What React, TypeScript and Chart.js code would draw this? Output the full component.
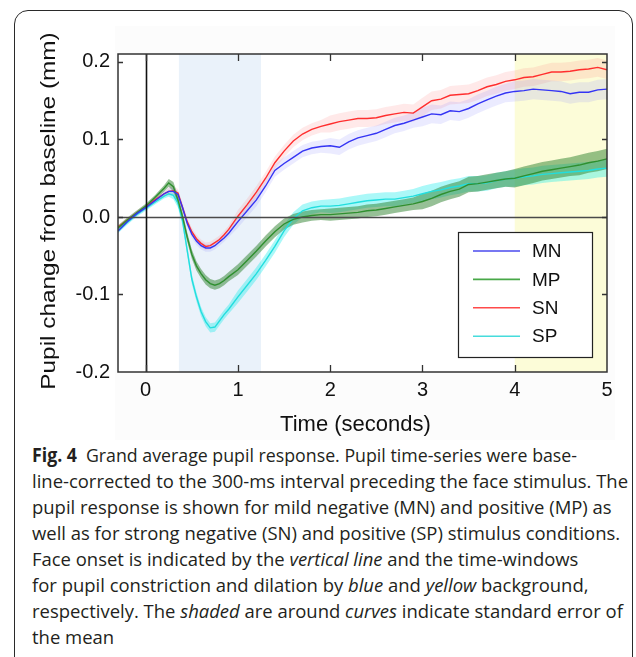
import React, { useEffect, useRef, useMemo } from "react";
import { Chart, registerables } from "chart.js";

Chart.register(...registerables);

// ---------- data ----------
const TIME = [
  -0.3, -0.2, -0.1, 0, 0.1, 0.2, 0.25, 0.3, 0.35, 0.4, 0.45, 0.5, 0.55, 0.6, 0.65, 0.7, 0.75, 0.8, 0.85, 0.9,
  1.0, 1.1, 1.2, 1.3, 1.4, 1.5, 1.6, 1.7, 1.8, 1.9,
  2.0, 2.1, 2.2, 2.3, 2.4, 2.5, 2.6, 2.7, 2.8, 2.9,
  3.0, 3.1, 3.2, 3.3, 3.4, 3.5, 3.6, 3.7, 3.8, 3.9,
  4.0, 4.1, 4.2, 4.3, 4.4, 4.5, 4.6, 4.7, 4.8, 4.9, 5.0,
];

const MN = [
  -0.018, -0.006, 0.004, 0.012, 0.021, 0.030, 0.033, 0.033, 0.029, 0.012, -0.008, -0.022, -0.031, -0.037, -0.040, -0.040, -0.037, -0.032, -0.027, -0.021,
  -0.006, 0.008, 0.022, 0.040, 0.060, 0.069, 0.077, 0.085, 0.089, 0.091,
  0.092, 0.090, 0.097, 0.102, 0.105, 0.108, 0.113, 0.118, 0.121, 0.125,
  0.129, 0.133, 0.132, 0.137, 0.136, 0.140, 0.146, 0.151, 0.156, 0.160,
  0.162, 0.163, 0.165, 0.164, 0.163, 0.162, 0.159, 0.161, 0.161, 0.164, 0.165,
];
const MN_SE = [
  0.003, 0.003, 0.003, 0.003, 0.003, 0.003, 0.005, 0.005, 0.005, 0.005, 0.005, 0.005, 0.005, 0.005, 0.005, 0.005, 0.005, 0.005, 0.005, 0.005,
  0.008, 0.008, 0.008, 0.008, 0.008, 0.008, 0.008, 0.008, 0.008, 0.008,
  0.010, 0.010, 0.010, 0.010, 0.010, 0.010, 0.010, 0.010, 0.010, 0.010,
  0.012, 0.012, 0.012, 0.012, 0.012, 0.012, 0.012, 0.012, 0.012, 0.012,
  0.013, 0.013, 0.013, 0.013, 0.013, 0.013, 0.013, 0.013, 0.013, 0.013, 0.013,
];

const MP = [
  -0.014, -0.004, 0.005, 0.014, 0.025, 0.037, 0.044, 0.039, 0.022, 0.000, -0.026, -0.048, -0.063, -0.073, -0.081, -0.086, -0.088, -0.086, -0.082, -0.077,
  -0.068, -0.056, -0.044, -0.031, -0.019, -0.009, -0.003, 0.000, 0.002, 0.003,
  0.003, 0.004, 0.005, 0.006, 0.008, 0.009, 0.011, 0.013, 0.015, 0.017,
  0.020, 0.024, 0.029, 0.033, 0.036, 0.042, 0.043, 0.045, 0.047, 0.049,
  0.050, 0.053, 0.056, 0.059, 0.061, 0.063, 0.065, 0.067, 0.070, 0.072, 0.075,
];
const MP_SE = [
  0.003, 0.003, 0.003, 0.003, 0.003, 0.004, 0.005, 0.006, 0.006, 0.006, 0.006, 0.006, 0.006, 0.006, 0.006, 0.006, 0.006, 0.006, 0.006, 0.006,
  0.007, 0.007, 0.007, 0.007, 0.007, 0.007, 0.007, 0.007, 0.007, 0.007,
  0.008, 0.008, 0.008, 0.008, 0.008, 0.008, 0.008, 0.008, 0.008, 0.008,
  0.010, 0.010, 0.010, 0.010, 0.010, 0.010, 0.010, 0.010, 0.010, 0.010,
  0.012, 0.012, 0.012, 0.012, 0.012, 0.012, 0.012, 0.013, 0.013, 0.013, 0.013,
];

const SN = [
  -0.013, -0.004, 0.005, 0.013, 0.022, 0.030, 0.033, 0.034, 0.031, 0.012, -0.006, -0.019, -0.028, -0.034, -0.038, -0.037, -0.033, -0.029, -0.023, -0.016,
  0.001, 0.016, 0.032, 0.050, 0.070, 0.085, 0.098, 0.107, 0.113, 0.117,
  0.120, 0.123, 0.125, 0.127, 0.127, 0.128, 0.131, 0.133, 0.135, 0.134,
  0.142, 0.150, 0.152, 0.157, 0.158, 0.159, 0.163, 0.168, 0.171, 0.175,
  0.177, 0.180, 0.181, 0.184, 0.187, 0.187, 0.188, 0.190, 0.191, 0.193, 0.190,
];
const SN_SE = [
  0.003, 0.003, 0.003, 0.003, 0.003, 0.003, 0.005, 0.005, 0.005, 0.005, 0.005, 0.005, 0.005, 0.005, 0.005, 0.005, 0.005, 0.005, 0.005, 0.005,
  0.008, 0.008, 0.008, 0.008, 0.008, 0.008, 0.008, 0.008, 0.008, 0.008,
  0.011, 0.011, 0.011, 0.011, 0.011, 0.011, 0.011, 0.011, 0.011, 0.011,
  0.012, 0.012, 0.012, 0.012, 0.012, 0.012, 0.012, 0.012, 0.012, 0.012,
  0.012, 0.012, 0.012, 0.012, 0.012, 0.012, 0.012, 0.012, 0.012, 0.012, 0.012,
];

const SP = [
  -0.018, -0.007, 0.003, 0.011, 0.019, 0.027, 0.030, 0.028, 0.018, -0.005, -0.043, -0.080, -0.103, -0.122, -0.135, -0.143, -0.142, -0.134, -0.126, -0.119,
  -0.103, -0.088, -0.073, -0.056, -0.038, -0.018, -0.002, 0.008, 0.012, 0.014,
  0.014, 0.015, 0.017, 0.019, 0.021, 0.022, 0.023, 0.023, 0.025, 0.027,
  0.030, 0.033, 0.035, 0.038, 0.040, 0.043, 0.043, 0.044, 0.047, 0.049,
  0.050, 0.052, 0.053, 0.055, 0.056, 0.057, 0.058, 0.059, 0.060, 0.062, 0.063,
];
const SP_SE = [
  0.003, 0.003, 0.003, 0.003, 0.003, 0.003, 0.004, 0.005, 0.006, 0.006, 0.006, 0.006, 0.006, 0.006, 0.006, 0.006, 0.006, 0.006, 0.006, 0.006,
  0.008, 0.008, 0.008, 0.008, 0.008, 0.008, 0.008, 0.008, 0.008, 0.008,
  0.009, 0.009, 0.009, 0.009, 0.009, 0.009, 0.009, 0.009, 0.009, 0.009,
  0.010, 0.010, 0.010, 0.010, 0.010, 0.010, 0.010, 0.010, 0.010, 0.010,
  0.011, 0.011, 0.011, 0.011, 0.011, 0.011, 0.011, 0.011, 0.011, 0.011, 0.011,
];

const SERIES_NAMES = ["MN", "MP", "SN", "SP"];
const X_TICKS = [0, 1, 2, 3, 4, 5];
const Y_TICKS = [-0.2, -0.1, 0, 0.1, 0.2];
const X_RANGE = [-0.3, 5];
const Y_RANGE = [-0.2, 0.2103];
const ONSET = 0;
const CONSTRICTION_WINDOW = [0.36, 1.25];
const DILATION_WINDOW = [4, 5];

const Y_TITLE = "Pupil change from baseline (mm)";
const X_TITLE = "Time (seconds)";

const CAPTION: [string, string][][] = [
  [["Fig. 4", "b"], ["\u2002Grand average pupil response. Pupil time-series were base-", ""]],
  [["line-corrected to the 300-ms interval preceding the face stimulus. The", ""]],
  [["pupil response is shown for mild negative (MN) and positive (MP) as", ""]],
  [["well as for strong negative (SN) and positive (SP) stimulus conditions.", ""]],
  [["Face onset is indicated by the ", ""], ["vertical line", "i"], [" and the time-windows", ""]],
  [["for pupil constriction and dilation by ", ""], ["blue", "i"], [" and ", ""], ["yellow", "i"], [" background,", ""]],
  [["respectively. The ", ""], ["shaded", "i"], [" are around ", ""], ["curves", "i"], [" indicate standard error of", ""]],
  [["the mean", ""]],
];

// ---------- styles ----------
const LINE_COLORS = ["#3434f4", "#2f8f2f", "#ff2e2e", "#22dede"];
const LEGEND_COLORS = ["#4a4aee", "#48a848", "#ff4a4a", "#46dcdc"];
const BAND_COLORS = [
  "rgba(130,130,255,0.16)",
  "rgba(45,130,45,0.50)",
  "rgba(255,120,120,0.16)",
  "rgba(0,235,235,0.33)",
];
const AXIS_FONT = "Liberation Sans";

const W = 636;
const CANVAS_H = 440;

const framePlugin = {
  id: "frame",
  beforeDatasetsDraw(chart: any) {
    const { ctx, chartArea: a, scales } = chart;
    const x = scales.x;
    ctx.save();
    ctx.fillStyle = "#ffffff";
    ctx.fillRect(a.left, a.top, a.right - a.left, a.bottom - a.top);
    const b0 = x.getPixelForValue(CONSTRICTION_WINDOW[0]);
    const b1 = x.getPixelForValue(CONSTRICTION_WINDOW[1]);
    ctx.fillStyle = "#eaf2fa";
    ctx.fillRect(b0, a.top, b1 - b0, a.bottom - a.top);
    const y0 = x.getPixelForValue(DILATION_WINDOW[0]);
    const y1 = x.getPixelForValue(DILATION_WINDOW[1]);
    ctx.fillStyle = "#fcfcd8";
    ctx.fillRect(y0, a.top, y1 - y0, a.bottom - a.top);
    ctx.restore();
  },
  afterDatasetsDraw(chart: any) {
    const { ctx, chartArea: a, scales } = chart;
    const x = scales.x;
    const y = scales.y;
    ctx.save();
    const zy = Math.round(y.getPixelForValue(0)) + 0.5;
    ctx.strokeStyle = "#4a4a4a";
    ctx.lineWidth = 1.6;
    ctx.beginPath();
    ctx.moveTo(a.left, zy);
    ctx.lineTo(a.right, zy);
    ctx.stroke();
    const ox = Math.round(x.getPixelForValue(ONSET)) + 0.5;
    ctx.strokeStyle = "#111";
    ctx.lineWidth = 1.6;
    ctx.beginPath();
    ctx.moveTo(ox, a.top);
    ctx.lineTo(ox, a.bottom);
    ctx.stroke();
    ctx.strokeStyle = "#333";
    ctx.lineWidth = 1.5;
    ctx.strokeRect(a.left, a.top, a.right - a.left, a.bottom - a.top);
    ctx.lineWidth = 1.3;
    ctx.beginPath();
    X_TICKS.forEach((v) => {
      const px = Math.round(x.getPixelForValue(v)) + 0.5;
      if (v > X_RANGE[0] && v < X_RANGE[1]) {
        ctx.moveTo(px, a.top);
        ctx.lineTo(px, a.top + 7);
        ctx.moveTo(px, a.bottom);
        ctx.lineTo(px, a.bottom - 7);
      }
    });
    Y_TICKS.forEach((v) => {
      const py = Math.round(y.getPixelForValue(v)) + 0.5;
      if (v > Y_RANGE[0] && v < Y_RANGE[1]) {
        ctx.moveTo(a.left, py);
        ctx.lineTo(a.left + 5, py);
        ctx.moveTo(a.right, py);
        ctx.lineTo(a.right - 5, py);
      }
    });
    ctx.stroke();
    ctx.restore();
  },
  afterDraw(chart: any) {
    const { ctx, chartArea: a } = chart;
    ctx.save();
    ctx.fillStyle = "#111";
    ctx.save();
    ctx.translate(a.left - 63, (a.top + a.bottom) / 2 - 2);
    ctx.rotate(-Math.PI / 2);
    ctx.scale(1.16, 1);
    ctx.font = `21px "${AXIS_FONT}"`;
    ctx.textAlign = "center";
    ctx.textBaseline = "alphabetic";
    ctx.fillText(Y_TITLE, 0, 0);
    ctx.restore();
    ctx.font = `22px "${AXIS_FONT}"`;
    ctx.textAlign = "center";
    ctx.textBaseline = "alphabetic";
    ctx.fillText(X_TITLE, (a.left + a.right) / 2 - 7, a.bottom + 59);
    const lx = a.right - 149;
    const ly = a.top + 178;
    const lw = 134;
    const lh = 125;
    ctx.fillStyle = "#fff";
    ctx.fillRect(lx, ly, lw, lh);
    ctx.strokeStyle = "#222";
    ctx.lineWidth = 1.2;
    ctx.strokeRect(lx + 0.5, ly + 0.5, lw, lh);
    ctx.font = `19px "${AXIS_FONT}"`;
    ctx.textAlign = "left";
    ctx.textBaseline = "middle";
    SERIES_NAMES.forEach((name, i) => {
      const yy = ly + 19 + i * 28.4;
      ctx.strokeStyle = LEGEND_COLORS[i];
      ctx.lineWidth = 1.6;
      ctx.beginPath();
      ctx.moveTo(lx + 15, yy);
      ctx.lineTo(lx + 62, yy);
      ctx.stroke();
      ctx.fillStyle = "#111";
      ctx.fillText(name, lx + 74, yy + 1);
    });
    ctx.restore();
  },
};

function ChartCanvas() {
  const ref = useRef<HTMLCanvasElement | null>(null);
  useEffect(() => {
    if (!ref.current) return;
    const means = [MN, MP, SN, SP];
    const ses = [MN_SE, MP_SE, SN_SE, SP_SE];
    const datasets: any[] = [];
    means.forEach((m, s) => {
      datasets.push({
        label: SERIES_NAMES[s] + " upper",
        data: TIME.map((t, i) => ({ x: t, y: m[i] + ses[s][i] })),
        borderWidth: 0,
        pointRadius: 0,
        fill: false,
        order: 10,
      });
      datasets.push({
        label: SERIES_NAMES[s] + " lower",
        data: TIME.map((t, i) => ({ x: t, y: m[i] - ses[s][i] })),
        borderWidth: 0,
        pointRadius: 0,
        fill: "-1",
        backgroundColor: BAND_COLORS[s],
        order: 10,
      });
    });
    means.forEach((m, s) => {
      datasets.push({
        label: SERIES_NAMES[s],
        data: TIME.map((t, i) => ({ x: t, y: m[i] })),
        borderColor: LINE_COLORS[s],
        borderWidth: 1.4,
        pointRadius: 0,
        fill: false,
        tension: 0,
        order: 1,
      });
    });

    const chart = new Chart(ref.current, {
      type: "line",
      data: { datasets },
      plugins: [framePlugin],
      options: {
        animation: false,
        responsive: false,
        devicePixelRatio: 1,
        layout: { padding: { left: 0, top: 54, right: 29, bottom: 0 } },
        plugins: { legend: { display: false }, tooltip: { enabled: false } },
        scales: {
          x: {
            type: "linear",
            min: X_RANGE[0],
            max: X_RANGE[1],
            grid: { display: false, drawTicks: false },
            border: { display: false },
            afterBuildTicks: (s: any) => {
              s.ticks = X_TICKS.map((v) => ({ value: v }));
            },
            afterFit: (s: any) => {
              s.height = 68;
            },
            ticks: {
              padding: 6,
              color: "#111",
              maxRotation: 0,
              autoSkip: false,
              font: { family: AXIS_FONT, size: 20 },
              callback: (v: any) => String(v),
            },
          },
          y: {
            type: "linear",
            min: Y_RANGE[0],
            max: Y_RANGE[1],
            grid: { display: false, drawTicks: false },
            border: { display: false },
            afterBuildTicks: (s: any) => {
              s.ticks = Y_TICKS.map((v) => ({ value: v }));
            },
            afterFit: (s: any) => {
              s.width = 118;
            },
            ticks: {
              padding: 8,
              color: "#111",
              autoSkip: false,
              font: { family: AXIS_FONT, size: 20 },
              callback: (v: any) => Number(v).toFixed(1),
            },
          },
        },
      } as any,
    });
    return () => chart.destroy();
  }, []);
  return (
    <canvas
      ref={ref}
      width={W}
      height={CANVAS_H}
      style={{ position: "absolute", left: 0, top: 0, width: W, height: CANVAS_H }}
    />
  );
}

// target text widths for caption lines (px): line 0 and the reference line 1
const CAPTION_LINE0_WIDTH = 545;
const CAPTION_LINE1_WIDTH = 596;

function Caption() {
  const scales = useMemo(() => {
    const c = document.createElement("canvas").getContext("2d");
    if (!c) return CAPTION.map(() => 0.82);
    const measure = (line: [string, string][]) =>
      line.reduce((acc, [t, st]) => {
        c.font = `${st === "b" ? "700 " : ""}${st === "i" ? "italic " : ""}19px "Open Sans"`;
        return acc + c.measureText(t).width;
      }, 0);
    const w1 = measure(CAPTION[1]);
    const base = w1 > 0 ? CAPTION_LINE1_WIDTH / w1 : 0.82;
    const w0 = measure(CAPTION[0]);
    return CAPTION.map((_, i) => (i === 0 && w0 > 0 ? CAPTION_LINE0_WIDTH / w0 : base));
  }, []);
  return (
    <div>
      {CAPTION.map((line, i) => (
        <div
          key={i}
          style={{
            position: "absolute",
            left: 32,
            top: 441.6 + i * 26.1,
            whiteSpace: "pre",
            fontFamily: '"Open Sans"',
            fontSize: 19,
            lineHeight: "26px",
            color: "#231f20",
            transform: `scaleX(${scales[i]})`,
            transformOrigin: "left top",
          }}
        >
          {line.map(([t, st], j) => (
            <span
              key={j}
              style={{
                fontWeight: st === "b" ? 700 : 400,
                fontStyle: st === "i" ? "italic" : "normal",
              }}
            >
              {t}
            </span>
          ))}
        </div>
      ))}
    </div>
  );
}

export default function App() {
  return (
    <div
      style={{
        position: "fixed",
        left: 0,
        top: 0,
        width: W,
        height: 657,
        overflow: "hidden",
        background: "#fff",
      }}
    >
      <div
        style={{
          position: "absolute",
          left: 14,
          top: 10,
          width: 619,
          height: 720,
          border: "1.5px solid #2a2a2a",
          borderRadius: 14,
          boxSizing: "border-box",
        }}
      />
      <div
        style={{
          position: "absolute",
          left: 115,
          top: 26,
          width: 500,
          height: 414,
          background: "#fcfcfc",
        }}
      />
      <ChartCanvas />
      <Caption />
    </div>
  );
}
